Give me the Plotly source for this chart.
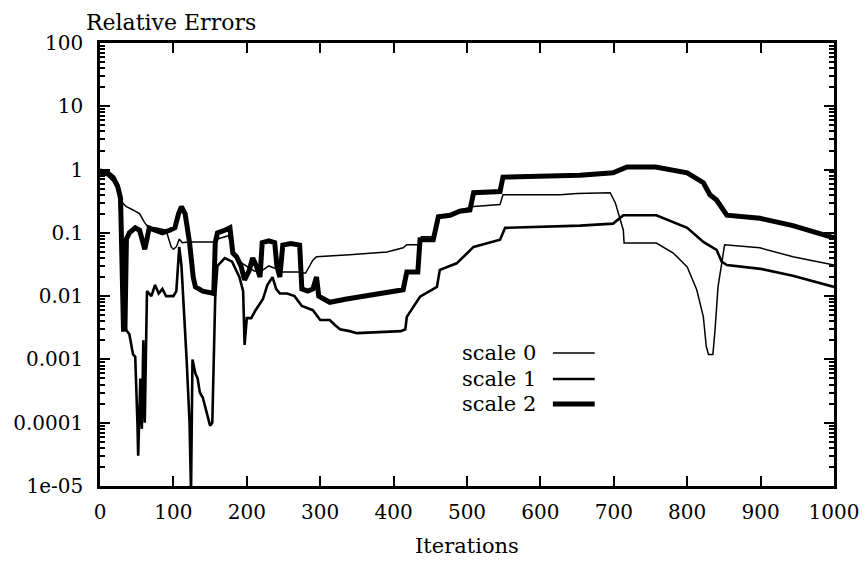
import plotly.graph_objects as go

# ---- data ----
scale0_x = [0, 10, 18, 25, 30, 36, 45, 54, 60, 66, 75, 90, 97, 100, 104, 108, 112, 120, 140, 155,
            160, 175, 180, 185, 190, 200, 210, 220, 230, 240, 245, 272, 280, 290, 295, 340, 391, 413, 418, 436,
            438, 454, 459, 481, 490, 509, 545, 549, 627, 650, 695, 702, 713, 714, 758, 781, 800, 813, 822, 826,
            829, 835, 838, 842, 847, 851, 899, 944, 1000]
scale0_y = [0.85, 0.8, 0.65, 0.45, 0.3, 0.26, 0.23, 0.2, 0.15, 0.12, 0.12, 0.11, 0.06, 0.055, 0.06, 0.08, 0.07, 0.072, 0.072, 0.072,
            0.08, 0.09, 0.06, 0.04, 0.035, 0.03, 0.025, 0.025, 0.03, 0.027, 0.024, 0.024, 0.023, 0.037, 0.042, 0.045, 0.05, 0.058, 0.065, 0.065,
            0.087, 0.087, 0.17, 0.19, 0.23, 0.26, 0.28, 0.40, 0.40, 0.42, 0.43, 0.3, 0.11, 0.069, 0.069, 0.048, 0.029, 0.0126, 0.0047, 0.0016,
            0.0012, 0.0012, 0.003, 0.014, 0.035, 0.065, 0.058, 0.042, 0.031]

scale1_x = [0, 10, 20, 26, 29, 31, 35, 40, 45, 48, 51, 52, 55, 57, 59, 61, 64, 70, 75, 80,
            85, 90, 100, 104, 108, 111, 118, 122, 124, 126, 130, 133, 136, 140, 145, 150, 153, 155, 157, 160,
            170, 180, 190, 195, 197, 200, 206, 212, 222, 228, 235, 240, 245, 255, 265, 275, 290, 300, 313, 320,
            327, 340, 350, 380, 410, 416, 418, 436, 459, 463, 486, 509, 545, 552, 600, 654, 699, 713, 758, 800,
            822, 840, 847, 854, 900, 944, 1000]
scale1_y = [0.9, 0.85, 0.7, 0.5, 0.1, 0.003, 0.003, 0.0025, 0.0012, 0.0011, 0.0001, 3e-5, 0.0005, 0.00008, 0.002, 0.0001, 0.012, 0.01, 0.015, 0.011,
            0.013, 0.01, 0.01, 0.012, 0.06, 0.03, 0.001, 0.0001, 8e-6, 0.001, 0.0006, 0.0005, 0.0003, 0.00025, 0.00015, 0.00009, 0.0001, 0.001, 0.01, 0.03,
            0.04, 0.035, 0.02, 0.012, 0.0017, 0.0045, 0.0045, 0.006, 0.009, 0.015, 0.02, 0.013, 0.011, 0.011, 0.01, 0.007, 0.006, 0.0042, 0.0042, 0.0035,
            0.003, 0.0028, 0.0026, 0.0027, 0.0028, 0.003, 0.0047, 0.0098, 0.014, 0.026, 0.033, 0.06, 0.078, 0.12, 0.125, 0.13, 0.14, 0.19, 0.19, 0.12,
            0.072, 0.054, 0.035, 0.031, 0.027, 0.021, 0.014]

scale2_x = [0, 10, 18, 24, 28, 30, 32, 34, 36, 40, 48, 54, 58, 61, 64, 67, 75, 85, 95, 102,
            107, 111, 116, 122, 127, 130, 140, 150, 155, 157, 160, 170, 177, 181, 186, 192, 197, 203, 208, 213,
            218, 221, 230, 238, 241, 245, 249, 260, 272, 275, 283, 290, 295, 298, 313, 336, 381, 413, 418, 433,
            436, 454, 461, 477, 490, 504, 509, 545, 549, 600, 654, 699, 718, 757, 800, 822, 831, 840, 854, 899,
            944, 1000]
scale2_y = [0.95, 0.9, 0.75, 0.55, 0.35, 0.05, 0.003, 0.003, 0.08, 0.1, 0.12, 0.11, 0.07, 0.055, 0.08, 0.12, 0.11, 0.1, 0.11, 0.12,
            0.2, 0.26, 0.2, 0.07, 0.02, 0.014, 0.012, 0.011, 0.011, 0.07, 0.1, 0.11, 0.12, 0.048, 0.042, 0.03, 0.018, 0.025, 0.04, 0.03,
            0.02, 0.07, 0.075, 0.07, 0.03, 0.02, 0.064, 0.068, 0.064, 0.013, 0.012, 0.013, 0.02, 0.01, 0.008, 0.009, 0.011, 0.0126, 0.024, 0.024,
            0.078, 0.078, 0.18, 0.19, 0.22, 0.23, 0.43, 0.45, 0.76, 0.77, 0.81, 0.89, 1.1, 1.1, 0.89, 0.62, 0.40, 0.33, 0.19, 0.17,
            0.13, 0.083]

series_names = ["scale 0", "scale 1", "scale 2"]
series_widths = [1.5, 2.6, 5]

FONT = "DejaVu Serif"
FS_TICK = 20
FS_TEXT = 21

fig = go.Figure()
for name, xs, ys, w in zip(series_names, [scale0_x, scale1_x, scale2_x],
                           [scale0_y, scale1_y, scale2_y], series_widths):
    fig.add_trace(go.Scatter(x=xs, y=ys, mode="lines", name=name,
                             line=dict(color="black", width=w), showlegend=False))

# custom legend (text left, line sample right, as in the reference)
leg_y = [0.300, 0.2415, 0.185]
for name, w, yy in zip(series_names, series_widths, leg_y):
    fig.add_annotation(xref="paper", yref="paper", x=0.597, y=yy, text=name,
                       showarrow=False, xanchor="right", yanchor="middle",
                       font=dict(family=FONT, size=FS_TEXT, color="black"))
    fig.add_shape(type="line", xref="paper", yref="paper", x0=0.617, x1=0.674,
                  y0=yy, y1=yy, line=dict(color="black", width=w))

fig.add_annotation(xref="paper", yref="paper", x=0.097, y=1.047, text="Relative Errors",
                   showarrow=False, xanchor="center", yanchor="middle",
                   font=dict(family=FONT, size=22, color="black"))

axis_common = dict(showgrid=False, zeroline=False, showline=True, linecolor="black",
                   linewidth=2.5, mirror="allticks", ticks="inside", tickcolor="black",
                   tickwidth=2, automargin=False,
                   tickfont=dict(family=FONT, size=FS_TICK, color="black"))

fig.update_xaxes(range=[0, 1000], tickmode="linear", tick0=0, dtick=100, ticklen=10,
                 ticklabelstandoff=6,
                 title=dict(text="Iterations", font=dict(family=FONT, size=FS_TEXT, color="black"), standoff=16),
                 **axis_common)
fig.update_yaxes(type="log", range=[-5, 2], tickmode="linear", tick0=0, dtick=1,
                 exponentformat="none", labelalias={"0.00001": "1e-05"},
                 ticklen=10, ticklabelstandoff=10,
                 minor=dict(ticks="inside", ticklen=5, tickcolor="black", tickwidth=1.5,
                            dtick="D1", showgrid=False),
                 **axis_common)

fig.update_layout(width=866, height=562, margin=dict(l=100, r=32, t=43, b=76),
                  plot_bgcolor="white", paper_bgcolor="white",
                  font=dict(family=FONT, size=FS_TICK, color="black"))

fig.write_html("out.html")
